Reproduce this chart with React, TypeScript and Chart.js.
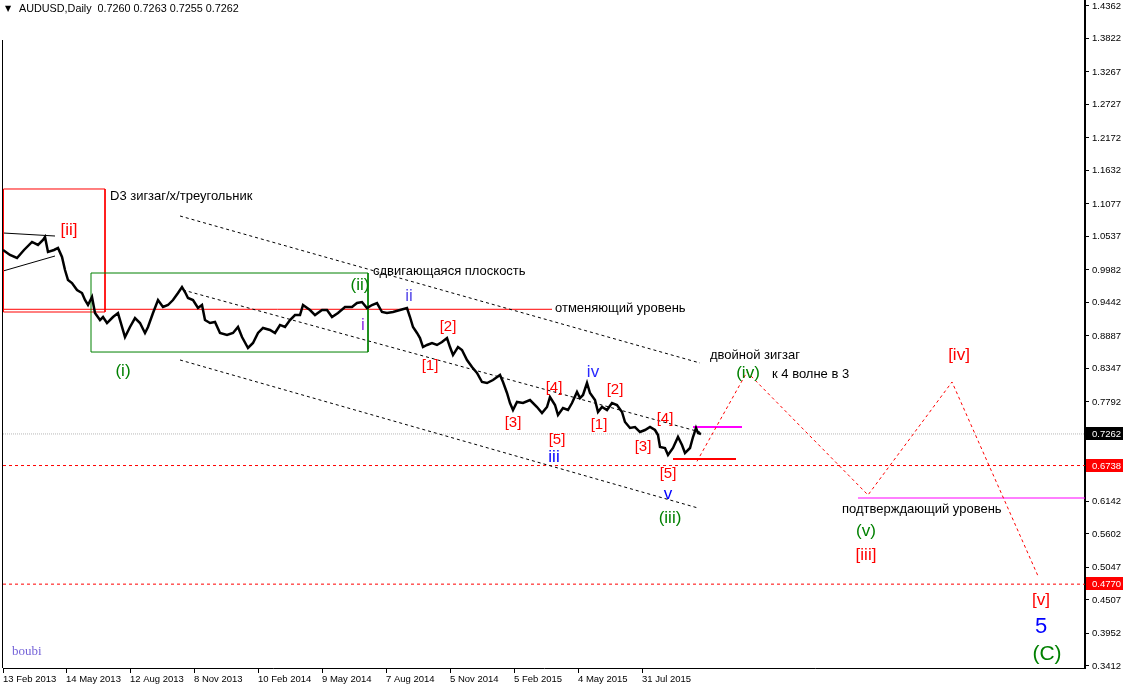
import React, { useEffect, useRef } from 'react';
import { Chart, registerables } from 'chart.js';

Chart.register(...registerables);

const W = 1124;
const H = 688;

// ---- axis ticks ----
const dateTickBars = [0, 63, 127, 191, 255, 319, 383, 447, 511, 575, 639];
const dateTickLabels = [
  '13 Feb 2013', '14 May 2013', '12 Aug 2013', '8 Nov 2013', '10 Feb 2014', '9 May 2014',
  '7 Aug 2014', '5 Nov 2014', '5 Feb 2015', '4 May 2015', '31 Jul 2015',
];
const priceTicks = [
  1.4362, 1.3822, 1.3267, 1.2727, 1.2172, 1.1632, 1.1077, 1.0537, 0.9982, 0.9442,
  0.8887, 0.8347, 0.7792, 0.6142, 0.5602, 0.5047, 0.4507, 0.3952, 0.3412,
];

// ---- AUDUSD daily closes (bar index from 13 Feb 2013) ----
const barIndex = [
  0, 7, 14, 21, 29, 35, 40, 42, 45, 51,
  55, 59, 62, 65, 69, 74, 79, 82, 85, 89,
  92, 97, 100, 104, 110, 115, 122, 127, 132, 137,
  142, 145, 150, 155, 160, 165, 170, 175, 179, 182,
  185, 190, 195, 199, 202, 207, 212, 217, 224, 230,
  235, 239, 245, 250, 255, 260, 267, 272, 277, 282,
  287, 292, 297, 300, 307, 312, 319, 324, 329, 335,
  342, 349, 354, 359, 364, 369, 374, 379, 384, 390,
  397, 404, 407, 410, 414, 417, 420, 424, 429, 434,
  439, 444, 447, 450, 455, 459, 464, 469, 474, 479,
  484, 490, 497, 500, 504, 507, 510, 514, 520, 527,
  534, 539, 544, 547, 552, 555, 560, 565, 569, 574,
  577, 580, 584, 587, 592, 595, 599, 604, 609, 614,
  619, 622, 627, 632, 637, 642, 647, 652, 655, 657,
  662, 665, 670, 675, 679, 682, 687, 690, 693, 695,
  698,
];
const closePrice = [
  1.0314, 1.0231, 1.0181, 1.0314, 1.0447, 1.0397, 1.0480, 1.0529, 1.0281, 1.0314,
  1.0347, 1.0198, 0.9982, 0.9816, 0.9766, 0.9650, 0.9600, 0.9484, 0.9401, 0.9534,
  0.9268, 0.9152, 0.9202, 0.9102, 0.9202, 0.9268, 0.8870, 0.9036, 0.9185, 0.9102,
  0.8937, 0.9036, 0.9268, 0.9484, 0.9368, 0.9401, 0.9484, 0.9600, 0.9700, 0.9617,
  0.9517, 0.9484, 0.9351, 0.9401, 0.9152, 0.9102, 0.9119, 0.8937, 0.8904, 0.8937,
  0.9036, 0.8870, 0.8688, 0.8771, 0.8937, 0.9020, 0.8987, 0.8937, 0.9070, 0.9036,
  0.9152, 0.9235, 0.9235, 0.9401, 0.9318, 0.9235, 0.9318, 0.9318, 0.9202, 0.9268,
  0.9368, 0.9368, 0.9434, 0.9451, 0.9351, 0.9401, 0.9434, 0.9285, 0.9268, 0.9285,
  0.9318, 0.9351, 0.9202, 0.9036, 0.8937, 0.8854, 0.8704, 0.8738, 0.8771, 0.8738,
  0.8787, 0.8854, 0.8704, 0.8571, 0.8704, 0.8655, 0.8489, 0.8372, 0.8273, 0.8124,
  0.8107, 0.8157, 0.8240, 0.8124, 0.7941, 0.7775, 0.7659, 0.7792, 0.7775, 0.7825,
  0.7709, 0.7609, 0.7709, 0.7875, 0.7742, 0.7576, 0.7692, 0.7659, 0.7775, 0.7958,
  0.7858, 0.7908, 0.8107, 0.7941, 0.7825, 0.7626, 0.7709, 0.7659, 0.7775, 0.7742,
  0.7626, 0.7460, 0.7361, 0.7377, 0.7294, 0.7327, 0.7377, 0.7327, 0.7244, 0.7045,
  0.7029, 0.6913, 0.7029, 0.7211, 0.7078, 0.6945, 0.7029, 0.7211, 0.7361, 0.7277,
  0.7262,
];

const lastQuote = [0.7260, 0.7263, 0.7255, 0.7262];
const currentPrice = 0.7262;
const redTagLevels = [0.6738, 0.4770];

// ---- drawn objects (bar index, price) ----
const cancelLevelBars = [0, 549];
const cancelLevelPrice = 0.9330;
const confirmLevelBars = [855, 1082];
const confirmLevelPrice = 0.6199;
const magentaShortBars = [690, 739];
const magentaShortPrice = 0.7377;
const redShortBars = [670, 733];
const redShortPrice = 0.6846;

const projectionBars = [694, 744, 865, 949, 1035];
const projectionPrices = [0.6808, 0.8290, 0.6249, 0.8124, 0.4905];

const channelUpperBars = [177, 697];
const channelUpperPrices = [1.0878, 0.8439];
const channelMiddleBars = [180, 697];
const channelMiddlePrices = [0.9650, 0.7294];
const channelLowerBars = [177, 695];
const channelLowerPrices = [0.8489, 0.6033];

const triUpperBars = [0, 52];
const triUpperPrices = [1.0596, 1.0546];
const triLowerBars = [0, 52];
const triLowerPrices = [0.9965, 1.0214];

const greenBoxBars = [88, 365];
const greenBoxPrices = [0.9932, 0.8621];
const redBoxBars = [0.5, 102];
const redBoxPrices = [1.1326, 0.9285];

const RED = '#ff0000';
const GREEN = '#008000';
const BLUE = '#0000ff';
const VIOLET = '#8a2be2';
const SLATE = '#5548e8';

const waveLabels = [
  { t: '[ii]', b: 66, p: 1.0645, c: RED, s: 17 },
  { t: '(i)', b: 120, p: 0.8306, c: GREEN, s: 17 },
  { t: '(ii)', b: 357, p: 0.9733, c: GREEN, s: 17 },
  { t: 'i', b: 360, p: 0.9069, c: VIOLET, s: 17 },
  { t: 'ii', b: 406, p: 0.9551, c: SLATE, s: 17 },
  { t: '[2]', b: 445, p: 0.9036, c: RED, s: 15 },
  { t: '[1]', b: 427, p: 0.8389, c: RED, s: 15 },
  { t: '[4]', b: 551, p: 0.8024, c: RED, s: 15 },
  { t: '[3]', b: 510, p: 0.7443, c: RED, s: 15 },
  { t: '[5]', b: 554, p: 0.7161, c: RED, s: 15 },
  { t: 'iii', b: 551, p: 0.6879, c: BLUE, s: 17 },
  { t: 'iv', b: 590, p: 0.8289, c: '#2a2aff', s: 17 },
  { t: '[2]', b: 612, p: 0.7991, c: RED, s: 15 },
  { t: '[1]', b: 596, p: 0.7410, c: RED, s: 15 },
  { t: '[4]', b: 662, p: 0.7510, c: RED, s: 15 },
  { t: '[3]', b: 640, p: 0.7045, c: RED, s: 15 },
  { t: '[5]', b: 665, p: 0.6597, c: RED, s: 15 },
  { t: 'v', b: 665, p: 0.6265, c: BLUE, s: 17 },
  { t: '(iii)', b: 667, p: 0.5867, c: GREEN, s: 17 },
  { t: '(iv)', b: 745, p: 0.8273, c: GREEN, s: 17 },
  { t: '[iv]', b: 956, p: 0.8572, c: RED, s: 17 },
  { t: '(v)', b: 863, p: 0.5652, c: GREEN, s: 17 },
  { t: '[iii]', b: 863, p: 0.5253, c: RED, s: 17 },
  { t: '[v]', b: 1038, p: 0.4507, c: RED, s: 17 },
  { t: '5', b: 1038, p: 0.4059, c: BLUE, s: 22 },
  { t: '(C)', b: 1044, p: 0.3611, c: GREEN, s: 21 },
];

const notes = [
  { t: 'D3 зигзаг/x/треугольник', b: 107, p: 1.1210 },
  { t: 'сдвигающаяся плоскость', b: 370, p: 0.9965 },
  { t: 'отменяющий уровень', b: 552, p: 0.9351 },
  { t: 'двойной зигзаг', b: 707, p: 0.8572 },
  { t: 'к 4 волне в 3', b: 769, p: 0.8256 },
  { t: 'подтверждающий уровень', b: 839, p: 0.6017 },
];

const signature = { t: 'boubi', b: 9, p: 0.3644 };

const FONT = 'Liberation Sans, Arial, sans-serif';

function seg(bars: number[], prices: number[], color: string, width: number, dash: number[] = []) {
  return {
    type: 'line' as const,
    data: bars.map((b, i) => ({ x: b, y: prices[i] })),
    borderColor: color,
    borderWidth: width,
    borderDash: dash,
    pointRadius: 0,
    tension: 0,
    fill: false,
  };
}
function level(bars: number[], price: number, color: string, width: number, dash: number[] = []) {
  return seg(bars, bars.map(() => price), color, width, dash);
}
function box(bars: number[], prices: number[], color: string) {
  return seg(
    [bars[0], bars[1], bars[1], bars[0], bars[0]],
    [prices[0], prices[0], prices[1], prices[1], prices[0]],
    color, 1,
  );
}

const overlayPlugin = {
  id: 'overlay',
  afterDraw(chart: any) {
    const { ctx, chartArea, scales } = chart;
    const xs = scales.x;
    const ys = scales.y;
    ctx.save();
    // left frame line
    ctx.strokeStyle = '#000';
    ctx.lineWidth = 1;
    ctx.beginPath();
    ctx.moveTo(chartArea.left - 0.5, 40);
    ctx.lineTo(chartArea.left - 0.5, chartArea.bottom);
    ctx.stroke();

    // wave labels
    ctx.textBaseline = 'middle';
    ctx.textAlign = 'center';
    for (const w of waveLabels) {
      ctx.font = `${w.s}px ${FONT}`;
      ctx.fillStyle = w.c;
      ctx.fillText(w.t, xs.getPixelForValue(w.b), ys.getPixelForValue(w.p));
    }
    // notes
    ctx.textAlign = 'left';
    ctx.font = `13px ${FONT}`;
    ctx.fillStyle = '#000';
    for (const n of notes) {
      ctx.fillText(n.t, xs.getPixelForValue(n.b), ys.getPixelForValue(n.p));
    }
    // signature
    ctx.font = `13px 'Liberation Serif', serif`;
    ctx.fillStyle = '#7462d8';
    ctx.fillText(signature.t, xs.getPixelForValue(signature.b), ys.getPixelForValue(signature.p));

    // price tags on the axis
    ctx.font = `9.5px ${FONT}`;
    const tag = (price: number, bg: string) => {
      const y = Math.round(ys.getPixelForValue(price));
      ctx.fillStyle = bg;
      ctx.fillRect(chartArea.right + 1, y - 7, W - chartArea.right - 2, 13);
      ctx.fillStyle = '#fff';
      ctx.fillText(price.toFixed(4), chartArea.right + 7, y);
    };
    tag(currentPrice, '#000');
    for (const l of redTagLevels) tag(l, RED);

    // title
    ctx.fillStyle = '#000';
    ctx.font = `8px 'DejaVu Sans', sans-serif`;
    ctx.fillText('▼', 5, 9);
    ctx.font = `10.8px ${FONT}`;
    ctx.fillText('AUDUSD,Daily  ' + lastQuote.map((v) => v.toFixed(4)).join(' '), 19, 9);
    ctx.restore();
  },
};

export default function App() {
  const ref = useRef<HTMLCanvasElement | null>(null);
  useEffect(() => {
    if (!ref.current) return;
    const datasets: any[] = [
      seg(barIndex, closePrice, '#000', 2.5),
      box(greenBoxBars, greenBoxPrices, GREEN),
      box(redBoxBars, redBoxPrices, RED),
      seg(triUpperBars, triUpperPrices, '#000', 1),
      seg(triLowerBars, triLowerPrices, '#000', 1),
      seg(channelUpperBars, channelUpperPrices, '#000', 1, [3, 3]),
      seg(channelMiddleBars, channelMiddlePrices, '#000', 1, [3, 3]),
      seg(channelLowerBars, channelLowerPrices, '#000', 1, [3, 3]),
      seg(projectionBars, projectionPrices, RED, 1, [3, 3]),
      level(cancelLevelBars, cancelLevelPrice, RED, 1),
      level(confirmLevelBars, confirmLevelPrice, '#ff00ff', 1),
      level(magentaShortBars, magentaShortPrice, '#ff00ff', 2),
      level(redShortBars, redShortPrice, RED, 2),
      level([0, 1082], currentPrice, '#b8b8b8', 1, [1, 1]),
      ...redTagLevels.map((l) => level([0, 1082], l, RED, 1, [3, 3])),
    ];
    const chart = new Chart(ref.current, {
      type: 'line',
      data: { datasets },
      options: {
        animation: false,
        responsive: false,
        maintainAspectRatio: false,
        parsing: false as any,
        normalized: true,
        layout: { padding: { left: 3, top: 0, right: 0, bottom: 0 } },
        plugins: { legend: { display: false }, tooltip: { enabled: false }, title: { display: false } },
        events: [],
        scales: {
          x: {
            type: 'linear',
            min: 0,
            max: 1082,
            bounds: 'data',
            afterBuildTicks: (s: any) => { s.ticks = dateTickBars.map((v) => ({ value: v })); },
            afterFit: (s: any) => { s.height = 20; s.paddingLeft = 0; s.paddingRight = 0; },
            ticks: {
              autoSkip: false,
              maxRotation: 0,
              minRotation: 0,
              align: 'start',
              padding: 1,
              color: '#000',
              font: { family: FONT, size: 9.5 },
              callback: (v: any) => {
                const i = dateTickBars.indexOf(Number(v));
                return i >= 0 ? dateTickLabels[i] : '';
              },
            },
            grid: { drawOnChartArea: false, drawTicks: true, tickLength: 5, color: '#000' },
            border: { display: true, color: '#000', width: 1 },
          },
          y: {
            type: 'linear',
            position: 'right',
            min: 0.33787,
            max: 1.44615,
            bounds: 'data',
            afterBuildTicks: (s: any) => { s.ticks = priceTicks.map((v) => ({ value: v })); },
            afterFit: (s: any) => { s.width = 39; s.paddingTop = 0; s.paddingBottom = 0; },
            ticks: {
              autoSkip: false,
              padding: 3,
              color: '#000',
              font: { family: FONT, size: 9.5 },
              callback: (v: any) => Number(v).toFixed(4),
            },
            grid: { drawOnChartArea: false, drawTicks: true, tickLength: 4, color: '#000' },
            border: { display: true, color: '#000', width: 2 },
          },
        },
      } as any,
      plugins: [overlayPlugin],
    });
    return () => chart.destroy();
  }, []);
  return (
    <div style={{ position: 'absolute', left: 0, top: 0, width: W, height: H, background: '#fff' }}>
      <canvas ref={ref} width={W} height={H} style={{ display: 'block', width: W, height: H }} />
    </div>
  );
}
